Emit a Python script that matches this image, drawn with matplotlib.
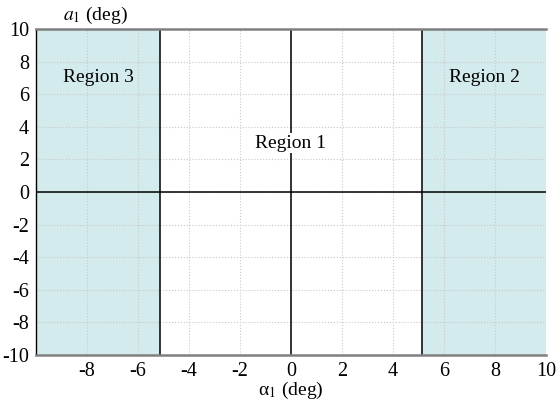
import numpy as np
import matplotlib
matplotlib.use("Agg")
import matplotlib.pyplot as plt

plt.rcParams['font.family'] = ['Liberation Serif', 'DejaVu Serif']
plt.rcParams['mathtext.fontset'] = 'stix'
plt.rcParams['axes.unicode_minus'] = False

# axis limits and ticks
x_lim = [-10, 10]
y_lim = [-10, 10]
x_ticks = [-8, -6, -4, -2, 0, 2, 4, 6, 8, 10]
y_ticks = [-10, -8, -6, -4, -2, 0, 2, 4, 6, 8, 10]

# region boundaries (deg)
boundary = [-5.14, 5.14]

# region labels and their positions
region_names = ["Region 3", "Region 1", "Region 2"]
region_x = [-7.57, 0.0, 7.57]
region_y = [7.0, 3.0, 7.0]

fig = plt.figure(figsize=(5.56, 4.03), dpi=100)
ax = fig.add_axes([0.0647, 0.119, 0.9173, 0.809])

fill_col = '#d3ebed'
ax.axvspan(x_lim[0], boundary[0], color=fill_col, lw=0, zorder=0)
ax.axvspan(boundary[1], x_lim[1], color=fill_col, lw=0, zorder=0)

ax.grid(True, color='#c8c8c8', linestyle=':', linewidth=0.8, zorder=1)
ax.set_axisbelow(True)

for b in boundary:
    ax.axvline(b, color='black', lw=1.1, zorder=2)
ax.axvline(0, color='black', lw=1.1, zorder=2)
ax.axhline(0, color='black', lw=1.1, zorder=2)

for name, xx, yy in zip(region_names, region_x, region_y):
    if name == "Region 1":
        ax.text(xx, yy, name, ha='center', va='center', fontsize=14, zorder=3,
                bbox=dict(facecolor='white', edgecolor='none', pad=1))
    else:
        ax.text(xx, yy, name, ha='center', va='center', fontsize=14, zorder=3)

ax.set_xlim(x_lim)
ax.set_ylim(y_lim)
ax.set_xticks(x_ticks)
ax.set_yticks(y_ticks)
ax.tick_params(length=0, labelsize=14.5)
ax.tick_params(axis='x', pad=5)
ax.tick_params(axis='y', pad=5)

ax.spines['right'].set_visible(False)
ax.spines['top'].set_color('#808080')
ax.spines['top'].set_linewidth(1.8)
ax.spines['bottom'].set_color('#808080')
ax.spines['bottom'].set_linewidth(1.8)
ax.spines['left'].set_color('black')
ax.spines['left'].set_linewidth(1)

ax.set_xlabel('α$_1$ (deg)', fontsize=14, labelpad=-1)
fig.text(0.171, 0.962, '$a_1$ (deg)', ha='center', va='center', fontsize=14)

fig.savefig('out.png', dpi=100)
